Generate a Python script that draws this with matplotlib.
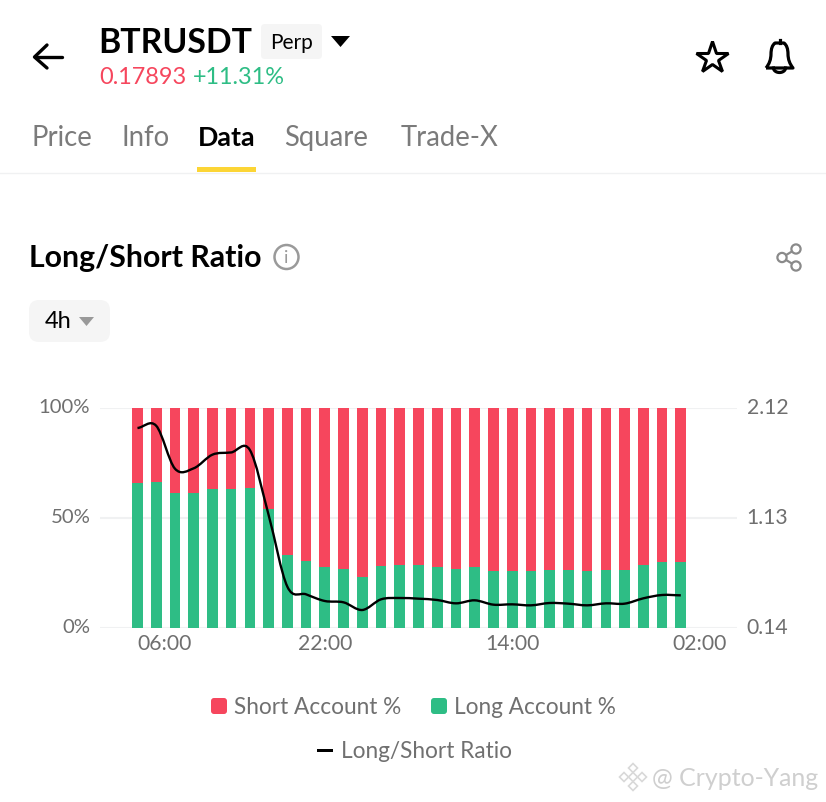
import numpy as np
import matplotlib
matplotlib.use("Agg")
import matplotlib.pyplot as plt
from matplotlib.path import Path
from matplotlib.patches import PathPatch, FancyBboxPatch, Rectangle, Circle, Polygon
from matplotlib.transforms import ScaledTranslation

long_pct = [66.1, 66.4, 61.2, 61.2, 63.0, 63.2, 63.5, 53.9, 33.3, 30.3,
            27.6, 26.7, 23.2, 28.2, 28.6, 28.5, 27.9, 26.7, 27.9, 25.9,
            26.1, 25.8, 26.5, 26.2, 25.8, 26.5, 26.4, 28.6, 30.2, 30.2]
ratio = [1.94, 1.96, 1.574, 1.577, 1.70, 1.72, 1.742, 1.157, 0.512, 0.443,
         0.383, 0.371, 0.302, 0.398, 0.41, 0.404, 0.392, 0.362, 0.389, 0.35,
         0.353, 0.344, 0.365, 0.359, 0.344, 0.362, 0.359, 0.407, 0.437, 0.434]
x_tick_pos = [0, 10, 20, 30]
x_tick_labels = ["06:00", "22:00", "14:00", "02:00"]
left_ticks = [0, 50, 100]
left_labels = ["0%", "50%", "100%"]
right_ticks = [0.14, 1.13, 2.12]
right_labels = ["0.14", "1.13", "2.12"]
tabs = [("Price", 31), ("Info", 122), ("Data", 198), ("Square", 284), ("Trade-X", 401)]

RED = "#f6465d"
GREEN = "#2ebd85"
FONT = "Lato"
plt.rcParams["font.family"] = FONT

W, H = 826, 802
fig = plt.figure(figsize=(W / 100, H / 100), dpi=100, facecolor="white")

# chart
ax = fig.add_axes([100 / W, (H - 628) / H, 637 / W, 220 / H])
idx = np.arange(len(long_pct))
long_arr = np.array(long_pct)
short_arr = 100 - long_arr
ax.bar(idx, long_arr, width=0.57, color=GREEN, label="Long Account %", zorder=2)
ax.bar(idx, short_arr, bottom=long_arr, width=0.57, color=RED, label="Short Account %", zorder=2)
ax.set_xlim(-2, 32)
ax.set_ylim(0, 100)
ax.set_yticks(left_ticks, left_labels)
ax.set_xticks(x_tick_pos, x_tick_labels)
ax.grid(axis="y", color="#f0f1f2", lw=1.5, zorder=0)
ax.set_axisbelow(True)
for s in ax.spines.values():
    s.set_visible(False)
ax.tick_params(axis="y", length=0, labelsize=14.6, labelcolor="#6f6f6f", pad=7)
ax.tick_params(axis="x", length=0, labelsize=15.2, labelcolor="#6f6f6f", pad=4.6)
ax.get_xticklabels()[0].set_ha("left")
ax.patch.set_alpha(0)

ax2 = ax.twinx()
ax2.set_ylim(0.14, 2.12)
ax2.set_yticks(right_ticks, right_labels)
for s in ax2.spines.values():
    s.set_visible(False)
ax2.tick_params(length=0, labelsize=15.2, labelcolor="#6f6f6f", pad=7)

# the value labels sit 2 px above their gridlines
up = ScaledTranslation(0, 2 / 100, fig.dpi_scale_trans)
for lab in list(ax.get_yticklabels()) + list(ax2.get_yticklabels()):
    lab.set_transform(lab.get_transform() + up)

# smooth line through the values, as a Bezier path
xs = idx.astype(float)
ys = np.array(ratio)
verts = [(xs[0], ys[0])]
codes = [Path.MOVETO]
for i in range(len(xs) - 1):
    p0 = ys[max(i - 1, 0)]
    p1, p2 = ys[i], ys[i + 1]
    p3 = ys[min(i + 2, len(ys) - 1)]
    verts += [(xs[i] + 1 / 3, p1 + (p2 - p0) / 6), (xs[i] + 2 / 3, p2 - (p3 - p1) / 6), (xs[i + 1], p2)]
    codes += [Path.CURVE4] * 3
ax2.add_patch(PathPatch(Path(verts, codes), fc="none", ec="black", lw=1.7, zorder=5, label="Long/Short Ratio"))

# page furniture, in pixel coordinates
ov = fig.add_axes([0, 0, 1, 1], zorder=10)
ov.set_xlim(0, W)
ov.set_ylim(H, 0)
ov.axis("off")


def t(x, y, s, size, color="black", weight="normal", ha="left"):
    ov.text(x, y, s, fontsize=size, color=color, weight=weight, ha=ha, va="center", family=FONT)


def box(x0, y0, x1, y1, r, color):
    ov.add_patch(FancyBboxPatch((x0 + r, y0 + r), x1 - x0 - 2 * r, y1 - y0 - 2 * r,
                                boxstyle=f"round,pad={r},rounding_size={r}", fc=color, ec="none"))


# header
ov.plot([35, 62], [57, 57], color="black", lw=2.4, solid_capstyle="round")
ov.plot([47, 34.5, 47], [45, 57, 68], color="black", lw=2.4, solid_capstyle="round", solid_joinstyle="round")
t(98, 43, "BTRUSDT", 24.4, weight="bold")
box(261, 24, 322, 59, 4, "#f5f5f5")
t(291, 43, "Perp", 15, ha="center")
ov.add_patch(Polygon([(331, 36), (350, 36), (340.5, 47)], fc="black", ec="none"))
t(99, 78, "0.17893", 16.9, color=RED)
t(193, 78, "+11.31%", 16.9, color=GREEN)
ov.plot([712], [58], marker="*", ms=24, mfc="none", mec="black", mew=2.2)

bell = Path([(766, 68), (771, 62), (771, 54), (771, 46), (775, 43), (779.5, 43), (784, 43), (788, 46), (788, 54),
             (788, 62), (793, 68), (766, 68)],
            [Path.MOVETO, Path.CURVE3, Path.CURVE3, Path.CURVE3, Path.CURVE3, Path.CURVE3,
             Path.CURVE3, Path.CURVE3, Path.CURVE3, Path.CURVE3, Path.CURVE3, Path.LINETO])
ov.add_patch(PathPatch(bell, fc="none", ec="black", lw=2.3, joinstyle="round"))
ov.plot([779.5, 779.5], [40, 43], color="black", lw=2.3)
arc = np.linspace(0, np.pi, 20)
ov.plot(779.5 + 6 * np.cos(arc), 68 + 4.5 * np.sin(arc), color="black", lw=2.3)

# tabs
for name, x in tabs:
    active = name == "Data"
    t(x, 138, name, 19.3 if active else 19.8, color="black" if active else "#7b7b7b",
      weight="bold" if active else "normal")
ov.add_patch(Rectangle((197, 167), 59, 5, fc="#fcd535", ec="none"))
ov.plot([0, W], [172.5, 172.5], color="#f0f1f2", lw=1)

# title row
t(29, 258, "Long/Short Ratio", 21.8, weight="bold")
ov.add_patch(Circle((286.5, 257), 12, fc="none", ec="#9a9a9a", lw=1.8))
t(286.5, 258, "i", 13, color="#9a9a9a", ha="center")
pts = [(796, 249), (782, 257.5), (796, 266)]
ov.plot([pts[0][0], pts[1][0], pts[2][0]], [pts[0][1], pts[1][1], pts[2][1]], color="#8a8a8a", lw=1.6)
for c in pts:
    ov.add_patch(Circle(c, 4.6, fc="white", ec="#8a8a8a", lw=1.6, zorder=3))

# period selector
box(29, 300, 110, 342, 10, "#f5f5f5")
t(45, 322, "4h", 17)
ov.add_patch(Polygon([(79, 317), (94, 317), (86.5, 326)], fc="#999999", ec="none"))

# legend
box(211, 698, 227, 714, 3, RED)
t(234, 707, "Short Account %", 16.3, color="#707070")
box(431, 698, 447, 714, 3, GREEN)
t(454, 707, "Long Account %", 16.3, color="#707070")
ov.add_patch(Rectangle((317, 748.5), 16, 3.5, fc="black", ec="none"))
t(341, 751, "Long/Short Ratio", 16.3, color="#707070")

# watermark
for dx, dy in [(0, -9), (-9, 0), (9, 0), (0, 9), (0, 0)]:
    ov.add_patch(Polygon([(633 + dx, 777 + dy - 4.5), (633 + dx + 4.5, 777 + dy), (633 + dx, 777 + dy + 4.5),
                          (633 + dx - 4.5, 777 + dy)], fc="none", ec="#d9d9d9", lw=1.2))
t(652, 778, "@ Crypto-Yang", 17.9, color="#cfcfcf")

fig.savefig("out.png", dpi=100, facecolor="white")
